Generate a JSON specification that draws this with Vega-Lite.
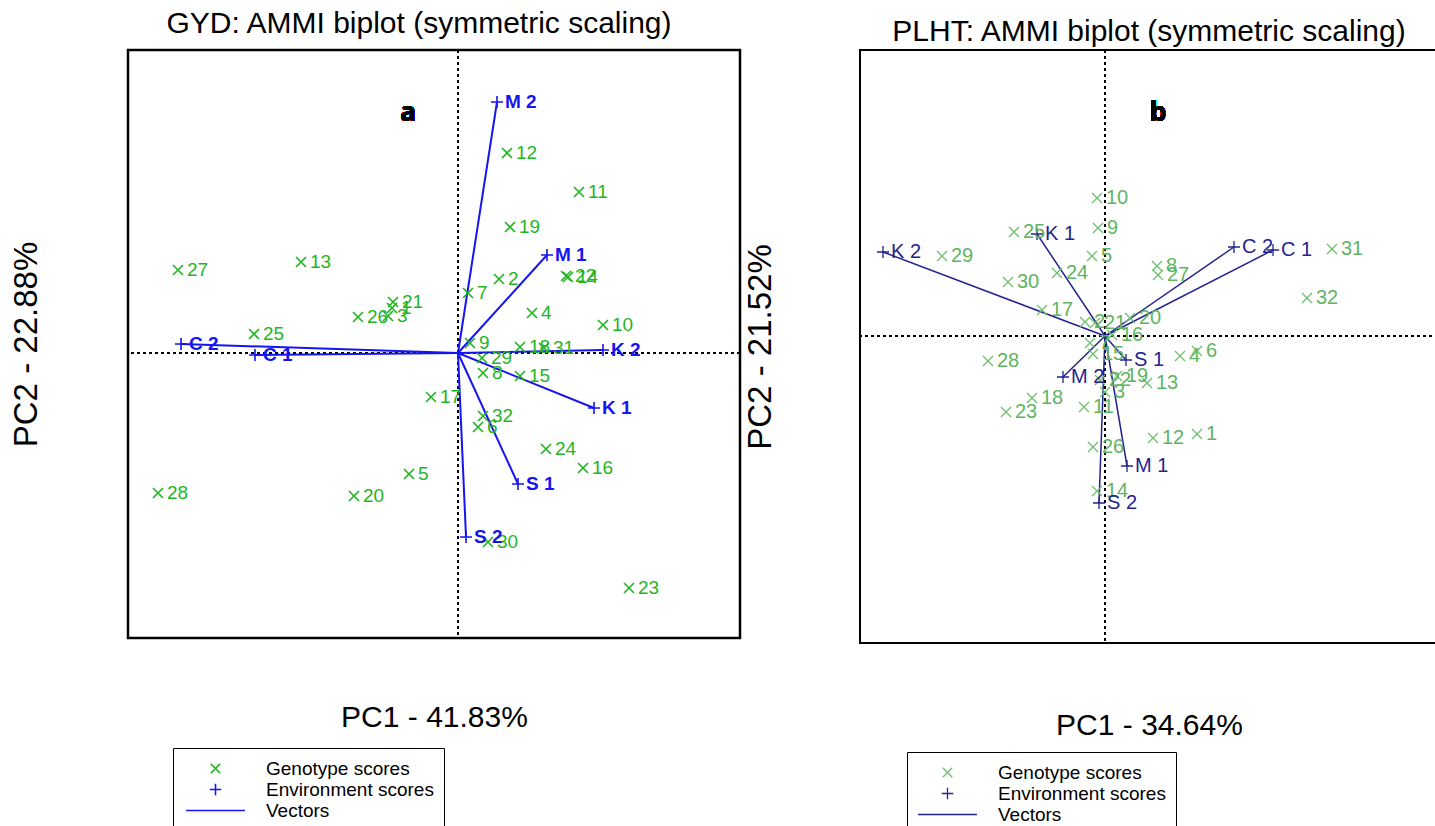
{
  "$schema": "https://vega.github.io/schema/vega-lite/v6.json",
  "background": "white",
  "padding": {"left": 8, "top": 8, "right": 0, "bottom": 0},
  "spacing": 1,
  "config": {
    "font": "Liberation Sans",
    "axis": {"grid": false, "ticks": false, "labels": false, "domain": false, "titleFontWeight": "normal", "titleColor": "#000"},
    "title": {"fontWeight": "normal", "color": "#000", "fontSize": 30, "anchor": "middle"},
    "legend": {"labelFont": "Liberation Sans", "labelColor": "#000", "labelLimit": 400}
  },
  "datasets": {
    "gyd": [
      {"id": "1", "type": "Genotype scores", "pc1": -0.66, "pc2": 0.45},
      {"id": "2", "type": "Genotype scores", "pc1": 0.41, "pc2": 0.74},
      {"id": "3", "type": "Genotype scores", "pc1": -0.70, "pc2": 0.37},
      {"id": "4", "type": "Genotype scores", "pc1": 0.74, "pc2": 0.40},
      {"id": "5", "type": "Genotype scores", "pc1": -0.49, "pc2": -1.21},
      {"id": "6", "type": "Genotype scores", "pc1": 0.20, "pc2": -0.74},
      {"id": "7", "type": "Genotype scores", "pc1": 0.10, "pc2": 0.60},
      {"id": "8", "type": "Genotype scores", "pc1": 0.25, "pc2": -0.20},
      {"id": "9", "type": "Genotype scores", "pc1": 0.12, "pc2": 0.10},
      {"id": "10", "type": "Genotype scores", "pc1": 1.45, "pc2": 0.28},
      {"id": "11", "type": "Genotype scores", "pc1": 1.21, "pc2": 1.61},
      {"id": "12", "type": "Genotype scores", "pc1": 0.49, "pc2": 2.00},
      {"id": "13", "type": "Genotype scores", "pc1": -1.57, "pc2": 0.91},
      {"id": "14", "type": "Genotype scores", "pc1": 1.10, "pc2": 0.76},
      {"id": "15", "type": "Genotype scores", "pc1": 0.62, "pc2": -0.23},
      {"id": "16", "type": "Genotype scores", "pc1": 1.25, "pc2": -1.15},
      {"id": "17", "type": "Genotype scores", "pc1": -0.27, "pc2": -0.44},
      {"id": "18", "type": "Genotype scores", "pc1": 0.62, "pc2": 0.06},
      {"id": "19", "type": "Genotype scores", "pc1": 0.52, "pc2": 1.26},
      {"id": "20", "type": "Genotype scores", "pc1": -1.04, "pc2": -1.43},
      {"id": "21", "type": "Genotype scores", "pc1": -0.65, "pc2": 0.51},
      {"id": "22", "type": "Genotype scores", "pc1": 1.08, "pc2": 0.77},
      {"id": "23", "type": "Genotype scores", "pc1": 1.71, "pc2": -2.35},
      {"id": "24", "type": "Genotype scores", "pc1": 0.88, "pc2": -0.96},
      {"id": "25", "type": "Genotype scores", "pc1": -2.04, "pc2": 0.19},
      {"id": "26", "type": "Genotype scores", "pc1": -1.00, "pc2": 0.36},
      {"id": "27", "type": "Genotype scores", "pc1": -2.80, "pc2": 0.83},
      {"id": "28", "type": "Genotype scores", "pc1": -3.00, "pc2": -1.40},
      {"id": "29", "type": "Genotype scores", "pc1": 0.24, "pc2": -0.05},
      {"id": "30", "type": "Genotype scores", "pc1": 0.30, "pc2": -1.89},
      {"id": "31", "type": "Genotype scores", "pc1": 0.86, "pc2": 0.05},
      {"id": "32", "type": "Genotype scores", "pc1": 0.25, "pc2": -0.63},
      {"id": "M 2", "type": "Environment scores", "pc1": 0.39, "pc2": 2.51},
      {"id": "M 1", "type": "Environment scores", "pc1": 0.89, "pc2": 0.98},
      {"id": "K 2", "type": "Environment scores", "pc1": 1.45, "pc2": 0.03},
      {"id": "K 1", "type": "Environment scores", "pc1": 1.36, "pc2": -0.55},
      {"id": "S 1", "type": "Environment scores", "pc1": 0.60, "pc2": -1.31},
      {"id": "S 2", "type": "Environment scores", "pc1": 0.08, "pc2": -1.84},
      {"id": "C 2", "type": "Environment scores", "pc1": -2.77, "pc2": 0.09},
      {"id": "C 1", "type": "Environment scores", "pc1": -2.03, "pc2": -0.02}
    ],
    "plht": [
      {"id": "1", "type": "Genotype scores", "pc1": 0.92, "pc2": -0.98},
      {"id": "2", "type": "Genotype scores", "pc1": -0.20, "pc2": 0.14},
      {"id": "3", "type": "Genotype scores", "pc1": 0.00, "pc2": -0.56},
      {"id": "4", "type": "Genotype scores", "pc1": 0.75, "pc2": -0.20},
      {"id": "5", "type": "Genotype scores", "pc1": -0.13, "pc2": 0.80},
      {"id": "6", "type": "Genotype scores", "pc1": 0.92, "pc2": -0.15},
      {"id": "7", "type": "Genotype scores", "pc1": -0.15, "pc2": -0.07},
      {"id": "8", "type": "Genotype scores", "pc1": 0.52, "pc2": 0.70},
      {"id": "9", "type": "Genotype scores", "pc1": -0.07, "pc2": 1.08},
      {"id": "10", "type": "Genotype scores", "pc1": -0.08, "pc2": 1.38},
      {"id": "11", "type": "Genotype scores", "pc1": -0.21, "pc2": -0.71},
      {"id": "12", "type": "Genotype scores", "pc1": 0.48, "pc2": -1.02},
      {"id": "13", "type": "Genotype scores", "pc1": 0.42, "pc2": -0.47},
      {"id": "14", "type": "Genotype scores", "pc1": -0.08, "pc2": -1.55},
      {"id": "15", "type": "Genotype scores", "pc1": -0.12, "pc2": -0.18},
      {"id": "16", "type": "Genotype scores", "pc1": 0.07, "pc2": 0.01},
      {"id": "17", "type": "Genotype scores", "pc1": -0.63, "pc2": 0.26},
      {"id": "18", "type": "Genotype scores", "pc1": -0.73, "pc2": -0.62},
      {"id": "19", "type": "Genotype scores", "pc1": 0.12, "pc2": -0.40},
      {"id": "20", "type": "Genotype scores", "pc1": 0.25, "pc2": 0.18},
      {"id": "21", "type": "Genotype scores", "pc1": -0.10, "pc2": 0.13},
      {"id": "22", "type": "Genotype scores", "pc1": -0.05, "pc2": -0.44},
      {"id": "23", "type": "Genotype scores", "pc1": -0.99, "pc2": -0.76},
      {"id": "24", "type": "Genotype scores", "pc1": -0.48, "pc2": 0.63},
      {"id": "25", "type": "Genotype scores", "pc1": -0.91, "pc2": 1.04},
      {"id": "26", "type": "Genotype scores", "pc1": -0.12, "pc2": -1.11},
      {"id": "27", "type": "Genotype scores", "pc1": 0.53, "pc2": 0.61},
      {"id": "28", "type": "Genotype scores", "pc1": -1.17, "pc2": -0.25},
      {"id": "29", "type": "Genotype scores", "pc1": -1.63, "pc2": 0.80},
      {"id": "30", "type": "Genotype scores", "pc1": -0.97, "pc2": 0.54},
      {"id": "31", "type": "Genotype scores", "pc1": 2.27, "pc2": 0.87},
      {"id": "32", "type": "Genotype scores", "pc1": 2.02, "pc2": 0.38},
      {"id": "K 2", "type": "Environment scores", "pc1": -2.22, "pc2": 0.84},
      {"id": "K 1", "type": "Environment scores", "pc1": -0.68, "pc2": 1.02},
      {"id": "C 2", "type": "Environment scores", "pc1": 1.29, "pc2": 0.89},
      {"id": "C 1", "type": "Environment scores", "pc1": 1.68, "pc2": 0.86},
      {"id": "S 1", "type": "Environment scores", "pc1": 0.21, "pc2": -0.24},
      {"id": "M 2", "type": "Environment scores", "pc1": -0.42, "pc2": -0.41},
      {"id": "M 1", "type": "Environment scores", "pc1": 0.22, "pc2": -1.30},
      {"id": "S 2", "type": "Environment scores", "pc1": -0.06, "pc2": -1.67}
    ]
  },
  "hconcat": [
    {
      "width": 612,
      "height": 588,
      "title": {"text": "GYD: AMMI biplot (symmetric scaling)", "dx": -15, "offset": 10},
      "view": {"stroke": "#000", "strokeWidth": 2.5},
      "data": {"name": "gyd"},
      "layer": [
        {"mark": {"type": "rule", "strokeDash": [3, 3], "color": "#000", "strokeWidth": 1.5}, "encoding": {"x": {"datum": 0}}},
        {"mark": {"type": "rule", "strokeDash": [3, 3], "color": "#000", "strokeWidth": 1.5}, "encoding": {"y": {"datum": 0}}},
        {
          "transform": [{"filter": "datum.type === 'Environment scores'"}],
          "mark": {"type": "rule", "color": "#1515f0", "strokeWidth": 2},
          "encoding": {
            "x": {"field": "pc1", "type": "quantitative", "title": "PC1 - 41.83%"},
            "y": {"field": "pc2", "type": "quantitative", "title": "PC2 - 22.88%"},
            "x2": {"datum": 0},
            "y2": {"datum": 0}
          }
        },
        {
          "mark": {"type": "point", "filled": false, "strokeWidth": 1.6, "size": 400, "opacity": 1},
          "encoding": {
            "x": {"field": "pc1", "type": "quantitative", "scale": {"domain": [-3.30, 2.82], "nice": false, "zero": false},
                  "axis": {"title": "PC1 - 41.83%", "titleFontSize": 30, "titlePadding": 64}},
            "y": {"field": "pc2", "type": "quantitative", "scale": {"domain": [-2.85, 3.03], "nice": false, "zero": false},
                  "axis": {"title": "PC2 - 22.88%", "titleFontSize": 33, "titlePadding": 85}},
            "color": {"field": "type", "type": "nominal",
                      "scale": {"domain": ["Genotype scores", "Environment scores", "Vectors"], "range": ["#1fb51f", "#1515f0", "#1515f0"]},
                      "legend": {"title": null, "orient": "none", "legendX": 45, "legendY": 698, "strokeColor": "#000", "fillColor": "#fff", "padding": 10, "labelFontSize": 19, "symbolSize": 361, "symbolStrokeWidth": 1.6, "symbolOffset": 22, "labelOffset": 40, "rowPadding": -1, "labelExpr": "datum.label + ' '"}},
            "shape": {"field": "type", "type": "nominal",
                      "scale": {"domain": ["Genotype scores", "Environment scores", "Vectors"], "range": ["M-0.5,-0.5L0.5,0.5M-0.5,0.5L0.5,-0.5", "M-0.6,0H0.6M0,-0.6V0.6", "M-3.1,0H3.1"]},
                      "legend": {"title": null, "orient": "none", "legendX": 45, "legendY": 698, "strokeColor": "#000", "fillColor": "#fff", "padding": 10, "labelFontSize": 19, "symbolSize": 361, "symbolStrokeWidth": 1.6, "symbolOffset": 22, "labelOffset": 40, "rowPadding": -1, "labelExpr": "datum.label + ' '"}}
          }
        },
        {
          "transform": [{"filter": "datum.type === 'Genotype scores'"}],
          "mark": {"type": "text", "align": "left", "baseline": "middle", "dx": 9, "fontSize": 19, "color": "#1fb51f"},
          "encoding": {
            "x": {"field": "pc1", "type": "quantitative", "title": "PC1 - 41.83%"},
            "y": {"field": "pc2", "type": "quantitative", "title": "PC2 - 22.88%"},
            "text": {"field": "id"}
          }
        },
        {
          "transform": [{"filter": "datum.type === 'Environment scores'"}],
          "mark": {"type": "text", "align": "left", "baseline": "middle", "dx": 8, "fontSize": 19, "fontWeight": "bold", "color": "#1515f0"},
          "encoding": {
            "x": {"field": "pc1", "type": "quantitative", "title": "PC1 - 41.83%"},
            "y": {"field": "pc2", "type": "quantitative", "title": "PC2 - 22.88%"},
            "text": {"field": "id"}
          }
        },
        {
          "mark": {"type": "text", "font": "Open Sans", "fontWeight": "bold", "fontSize": 26, "color": "#000", "baseline": "middle", "align": "center"},
          "encoding": {"x": {"datum": -0.50}, "y": {"datum": 2.40}, "text": {"value": "a"}}
        }
      ]
    },
    {
      "width": 578,
      "height": 593,
      "title": {"text": "PLHT: AMMI biplot (symmetric scaling)", "offset": 10, "dy": 8},
      "view": {"stroke": "#000", "strokeWidth": 2},
      "data": {"name": "plht"},
      "layer": [
        {"mark": {"type": "rule", "strokeDash": [3, 3], "color": "#000", "strokeWidth": 1.5}, "encoding": {"x": {"datum": 0}}},
        {"mark": {"type": "rule", "strokeDash": [3, 3], "color": "#000", "strokeWidth": 1.5}, "encoding": {"y": {"datum": 0}}},
        {
          "transform": [{"filter": "datum.type === 'Environment scores'"}],
          "mark": {"type": "rule", "color": "#23238e", "strokeWidth": 1.5},
          "encoding": {
            "x": {"field": "pc1", "type": "quantitative", "title": "PC1 - 34.64%"},
            "y": {"field": "pc2", "type": "quantitative", "title": "PC2 - 21.52%"},
            "x2": {"datum": 0},
            "y2": {"datum": 0}
          }
        },
        {
          "mark": {"type": "point", "filled": false, "strokeWidth": 1.3, "size": 400, "opacity": 1},
          "encoding": {
            "x": {"field": "pc1", "type": "quantitative", "scale": {"domain": [-2.45, 3.33], "nice": false, "zero": false},
                  "axis": {"title": "PC1 - 34.64%", "titleFontSize": 30, "titlePadding": 67}},
            "y": {"field": "pc2", "type": "quantitative", "scale": {"domain": [-3.07, 2.86], "nice": false, "zero": false},
                  "axis": {"title": "PC2 - 21.52%", "titleFontSize": 33, "titlePadding": 83}},
            "color": {"field": "type", "type": "nominal",
                      "scale": {"domain": ["Genotype scores", "Environment scores", "Vectors"], "range": ["#6cbf6c", "#23238e", "#23238e"]},
                      "legend": {"title": null, "orient": "none", "legendX": 47, "legendY": 702, "strokeColor": "#000", "fillColor": "#fff", "padding": 10, "labelFontSize": 19, "symbolSize": 361, "symbolStrokeWidth": 1.3, "symbolOffset": 20, "labelOffset": 40, "rowPadding": 0, "labelExpr": "datum.label + ' '"}},
            "shape": {"field": "type", "type": "nominal",
                      "scale": {"domain": ["Genotype scores", "Environment scores", "Vectors"], "range": ["M-0.5,-0.5L0.5,0.5M-0.5,0.5L0.5,-0.5", "M-0.6,0H0.6M0,-0.6V0.6", "M-3.1,0H3.1"]},
                      "legend": {"title": null, "orient": "none", "legendX": 47, "legendY": 702, "strokeColor": "#000", "fillColor": "#fff", "padding": 10, "labelFontSize": 19, "symbolSize": 361, "symbolStrokeWidth": 1.3, "symbolOffset": 20, "labelOffset": 40, "rowPadding": 0, "labelExpr": "datum.label + ' '"}}
          }
        },
        {
          "transform": [{"filter": "datum.type === 'Genotype scores'"}],
          "mark": {"type": "text", "align": "left", "baseline": "middle", "dx": 9, "fontSize": 20, "color": "#5fb55f"},
          "encoding": {
            "x": {"field": "pc1", "type": "quantitative", "title": "PC1 - 34.64%"},
            "y": {"field": "pc2", "type": "quantitative", "title": "PC2 - 21.52%"},
            "text": {"field": "id"}
          }
        },
        {
          "transform": [{"filter": "datum.type === 'Environment scores'"}],
          "mark": {"type": "text", "align": "left", "baseline": "middle", "dx": 8, "fontSize": 20, "color": "#23238e"},
          "encoding": {
            "x": {"field": "pc1", "type": "quantitative", "title": "PC1 - 34.64%"},
            "y": {"field": "pc2", "type": "quantitative", "title": "PC2 - 21.52%"},
            "text": {"field": "id"}
          }
        },
        {
          "mark": {"type": "text", "font": "Open Sans", "fontWeight": "bold", "fontSize": 26, "color": "#000", "baseline": "middle", "align": "center"},
          "encoding": {"x": {"datum": 0.53}, "y": {"datum": 2.23}, "text": {"value": "b"}}
        }
      ]
    }
  ],
  "resolve": {"scale": {"x": "independent", "y": "independent", "color": "independent", "shape": "independent"}}
}
